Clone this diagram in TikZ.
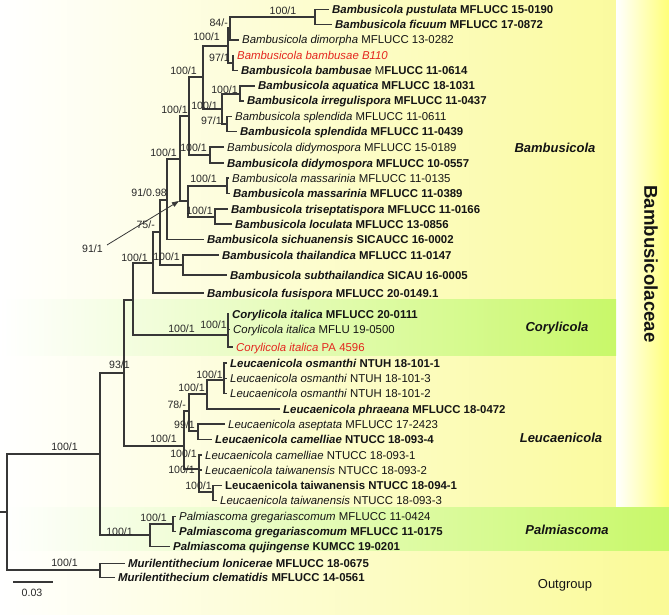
\documentclass[tikz,border=0pt]{standalone}
\usepackage{fontspec}
\setmainfont{Liberation Sans}
\usetikzlibrary{arrows.meta}
\definecolor{bgY}{RGB}{250,250,150}
\definecolor{stripY}{RGB}{255,255,120}
\definecolor{bandG}{RGB}{200,248,105}
\definecolor{brc}{RGB}{55,55,55}
\definecolor{txt}{RGB}{20,20,20}
\definecolor{lab}{RGB}{40,40,40}
\definecolor{redtx}{RGB}{228,38,30}
\newcommand\bsp[1]{\textbf{\textit{#1}}}
\newcommand\isp[1]{\textit{#1}}
\tikzset{
  br/.style={line width=1.2pt, draw=brc},
  tip/.style={anchor=west, inner xsep=3pt, inner ysep=0pt, font=\fontsize{11.4}{12}\selectfont, text height=8pt, text depth=0pt, text=txt},
  redtip/.style={tip, text=redtx},
  suplab/.style={anchor=east, inner sep=0pt, font=\fontsize{10.6}{11}\selectfont, text=lab, text height=7.6pt, text depth=0pt},
  cladelab/.style={inner sep=0pt, font=\fontsize{13}{14}\selectfont\bfseries\itshape, text=txt},
}
\begin{document}
\begin{tikzpicture}[x=1pt,y=-1pt]
\useasboundingbox (0,0) rectangle (669,615);
% backgrounds
\shade[left color=white, right color=bgY] (0,0) rectangle (669,615);
\shade[left color=white, right color=stripY] (616,0) rectangle (669,507);
\shade[left color=white, right color=bandG] (0,299) rectangle (616,355);
\shade[left color=white, right color=bandG] (0,507) rectangle (669,550);

% tips
\node[tip] (t1) at (329,9.5) {\bsp{Bambusicola pustulata} \textbf{MFLUCC 15-0190}};
\node[tip] (t2) at (332,24.5) {\bsp{Bambusicola ficuum} \textbf{MFLUCC 17-0872}};
\node[tip] (t3) at (239,40) {\isp{Bambusicola dimorpha} MFLUCC 13-0282};
\node[redtip] (t4) at (234,55.5) {\isp{Bambusicola bambusae B110}};
\node[tip] (t5) at (238,70.5) {\bsp{Bambusicola bambusae} M\textbf{FLUCC 11-0614}};
\node[tip] (t6) at (255,86) {\bsp{Bambusicola aquatica} \textbf{MFLUCC 18-1031}};
\node[tip] (t7) at (244,101) {\bsp{Bambusicola irregulispora} \textbf{MFLUCC 11-0437}};
\node[tip] (t8) at (232,116.5) {\isp{Bambusicola splendida} MFLUCC 11-0611};
\node[tip] (t9) at (237,131.5) {\bsp{Bambusicola splendida} \textbf{MFLUCC 11-0439}};
\node[tip] (t10) at (224,147) {\isp{Bambusicola didymospora} MFLUCC 15-0189};
\node[tip] (t11) at (224,163) {\bsp{Bambusicola didymospora} \textbf{MFLUCC 10-0557}};
\node[tip] (t12) at (229,178) {\isp{Bambusicola massarinia} MFLUCC 11-0135};
\node[tip] (t13) at (230,193.5) {\bsp{Bambusicola massarinia} \textbf{MFLUCC 11-0389}};
\node[tip] (t14) at (228,209) {\bsp{Bambusicola triseptatispora} \textbf{MFLUCC 11-0166}};
\node[tip] (t15) at (232,224) {\bsp{Bambusicola loculata} \textbf{MFLUCC 13-0856}};
\node[tip] (t16) at (204,239.5) {\bsp{Bambusicola sichuanensis} \textbf{SICAUCC 16-0002}};
\node[tip] (t17) at (219,255) {\bsp{Bambusicola thailandica} \textbf{MFLUCC 11-0147}};
\node[tip] (t18) at (227,275) {\bsp{Bambusicola subthailandica} \textbf{SICAU 16-0005}};
\node[tip] (t19) at (204,293) {\bsp{Bambusicola fusispora} \textbf{MFLUCC 20-0149.1}};
\node[tip] (t20) at (229,314) {\bsp{Corylicola italica} \textbf{MFLUCC 20-0111}};
\node[tip] (t21) at (230,329.5) {\isp{Corylicola italica} MFLU 19-0500};
\node[redtip] (t22) at (233,347) {\isp{Corylicola italica} PA 4596};
\node[tip] (t23) at (227,363) {\bsp{Leucaenicola osmanthi} \textbf{NTUH 18-101-1}};
\node[tip] (t24) at (227,378.5) {\isp{Leucaenicola osmanthi} NTUH 18-101-3};
\node[tip] (t25) at (227,393.5) {\isp{Leucaenicola osmanthi} NTUH 18-101-2};
\node[tip] (t26) at (280,409) {\bsp{Leucaenicola phraeana} \textbf{MFLUCC 18-0472}};
\node[tip] (t27) at (225,424) {\isp{Leucaenicola aseptata} MFLUCC 17-2423};
\node[tip] (t28) at (212,439.5) {\bsp{Leucaenicola camelliae} \textbf{NTUCC 18-093-4}};
\node[tip] (t29) at (202,455) {\isp{Leucaenicola camelliae} NTUCC 18-093-1};
\node[tip] (t30) at (202,470) {\isp{Leucaenicola taiwanensis} NTUCC 18-093-2};
\node[tip] (t31) at (222,485.5) {\textbf{Leucaenicola taiwanensis NTUCC 18-094-1}};
\node[tip] (t32) at (217,500.5) {\isp{Leucaenicola taiwanensis} NTUCC 18-093-3};
\node[tip] (t33) at (176,516.5) {\isp{Palmiascoma gregariascomum} MFLUCC 11-0424};
\node[tip] (t34) at (176,531.5) {\bsp{Palmiascoma gregariascomum} \textbf{MFLUCC 11-0175}};
\node[tip] (t35) at (170,546.5) {\bsp{Palmiascoma qujingense} \textbf{KUMCC 19-0201}};
\node[tip] (t36) at (125,563.5) {\bsp{Murilentithecium lonicerae} \textbf{MFLUCC 18-0675}};
\node[tip] (t37) at (115,577.5) {\bsp{Murilentithecium clematidis} \textbf{MFLUCC 14-0561}};

% internal nodes
\coordinate (nA) at (315,17);
\coordinate (nB) at (230,28);
\coordinate (nC) at (233,63);
\coordinate (nD) at (228,46);
\coordinate (nE) at (240,94);
\coordinate (nF) at (227,124);
\coordinate (nG) at (222,109);
\coordinate (nH) at (203,77);
\coordinate (nI) at (210,155);
\coordinate (nJ) at (189,116);
\coordinate (nM) at (227,186);
\coordinate (nN) at (215,217);
\coordinate (nO) at (188,201);
\coordinate (nK) at (180,159);
\coordinate (nL) at (167,200);
\coordinate (nQ) at (183,265);
\coordinate (nP) at (160,232);
\coordinate (nR) at (153,263);
\coordinate (nT) at (228,335);
\coordinate (nS) at (133,300);
\coordinate (nAA) at (224,380);
\coordinate (nBB) at (207,394);
\coordinate (nCC) at (198,431);
\coordinate (nDD) at (189,411);
\coordinate (nFF) at (213,492);
\coordinate (nEE) at (199,469);
\coordinate (nZ) at (184,446);
\coordinate (nU) at (124,373);
\coordinate (nY) at (173,524);
\coordinate (nX) at (150,535);
\coordinate (nV) at (100,454);
\coordinate (nW) at (100,570);
\coordinate (root) at (7,512);
\coordinate (rootstub) at (0,512);

% branches
\foreach \p/\c in {nA/t1.west,nA/t2.west,nB/nA,nB/t3.west,nC/t4.west,nC/t5.west,nD/nB,nD/nC,
  nE/t6.west,nE/t7.west,nF/t8.west,nF/t9.west,nG/nE,nG/nF,nH/nD,nH/nG,nI/t10.west,nI/t11.west,
  nJ/nH,nJ/nI,nM/t12.west,nM/t13.west,nN/t14.west,nN/t15.west,nO/nM,nO/nN,nK/nJ,nK/nO,
  nL/nK,nL/t16.west,nQ/t17.west,nQ/t18.west,nP/nL,nP/nQ,nR/nP,nR/t19.west,
  nT/t20.west,nT/t21.west,nT/t22.west,nS/nR,nS/nT,
  nAA/t23.west,nAA/t24.west,nAA/t25.west,nBB/nAA,nBB/t26.west,nCC/t27.west,nCC/t28.west,
  nDD/nBB,nDD/nCC,nFF/t31.west,nFF/t32.west,nEE/t29.west,nEE/t30.west,nEE/nFF,nZ/nDD,nZ/nEE,
  nU/nS,nU/nZ,nY/t33.west,nY/t34.west,nX/nY,nX/t35.west,nV/nU,nV/nX,
  nW/t36.west,nW/t37.west,root/nV,root/nW}
  \draw[br] (\p) |- (\c);
\draw[br] (rootstub) -- (root);

% support labels
\node[suplab, anchor=center] (s1) at (283,11) {100/1};
\node[suplab] (s2) at (228,23) {84/-};
\node[suplab] (s3) at (220,37) {100/1};
\node[suplab] (s4) at (230,58) {97/1};
\node[suplab] (s5) at (197,71) {100/1};
\node[suplab] (s6) at (238,90) {100/1};
\node[suplab] (s7) at (218,106) {100/1};
\node[suplab] (s8) at (222,121) {97/1};
\node[suplab] (s9) at (188,110) {100/1};
\node[suplab] (s10) at (207,148) {100/1};
\node[suplab] (s11) at (177,153) {100/1};
\node[suplab] (s12) at (217,179) {100/1};
\node[suplab] (s13) at (167,193) {91/0.98};
\node[suplab] (s14) at (213,211) {100/1};
\node[suplab] (s15) at (155,225) {75/-};
\node[suplab] (s16) at (103,249) {91/1};
\node[suplab] (s17) at (180,257) {100/1};
\node[suplab] (s18) at (148,258) {100/1};
\node[suplab] (s19) at (195,329) {100/1};
\node[suplab] (s20) at (227,325) {100/1};
\node[suplab] (s21) at (130,365) {93/1};
\node[suplab] (s22) at (223,375) {100/1};
\node[suplab] (s23) at (205,388) {100/1};
\node[suplab] (s24) at (186,405) {78/-};
\node[suplab] (s25) at (195,425) {99/1};
\node[suplab] (s26) at (177,439) {100/1};
\node[suplab] (s27) at (197,454) {100/1};
\node[suplab] (s28) at (195,470) {100/1};
\node[suplab] (s29) at (212,486) {100/1};
\node[suplab] (s30) at (78,447) {100/1};
\node[suplab] (s31) at (167,518) {100/1};
\node[suplab] (s32) at (133,532) {100/1};
\node[suplab] (s33) at (78,563) {100/1};

% arrow for 91/1
\coordinate (arrtip) at (179,201);
\coordinate (arrstart) at (107,245);
\draw[line width=0.8pt, draw=brc, -{Triangle[length=7pt,width=5pt]}] (arrstart) -- (arrtip);

% scale bar
\coordinate (sb1) at (13,582);
\coordinate (sb2) at (53,582);
\draw[br] (sb1) -- (sb2);
\node[suplab, anchor=center] (sbl) at (32,593) {0.03};

% clade labels
\node[cladelab] (cB) at (555,148) {Bambusicola};
\node[cladelab] (cC) at (557,328) {Corylicola};
\node[cladelab] (cL) at (561,438) {Leucaenicola};
\node[cladelab] (cP) at (567,530) {Palmiascoma};
\node[inner sep=0pt, font=\fontsize{13}{14}\selectfont, text=txt] (cO) at (565,585) {Outgroup};
\node[inner sep=0pt, font=\fontsize{18.6}{20}\selectfont\bfseries, text=txt, rotate=-90] (fam) at (651,264) {Bambusicolaceae};
\end{tikzpicture}
\end{document}
